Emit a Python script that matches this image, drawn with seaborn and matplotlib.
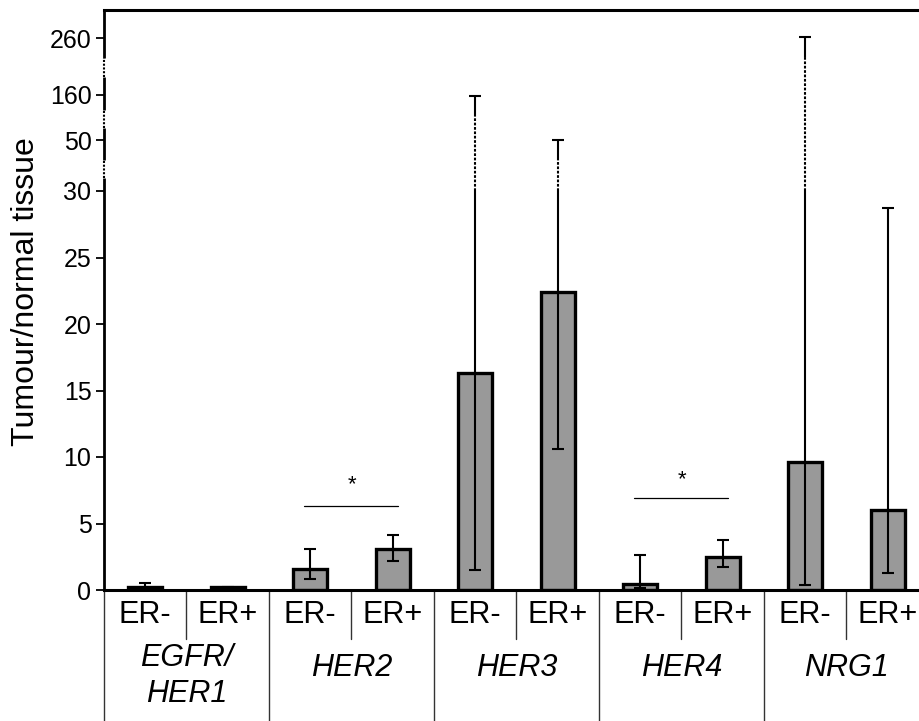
import numpy as np
import pandas as pd
import matplotlib
matplotlib.use("Agg")
import matplotlib.pyplot as plt
import matplotlib.transforms as mtransforms
import seaborn as sns

# ---------------- data ----------------
genes = ["EGFR/\nHER1", "HER2", "HER3", "HER4", "NRG1"]
status = ["ER-", "ER+"]
means = [0.25, 0.2, 1.6, 3.05, 16.3, 22.4, 0.45, 2.5, 9.6, 6.0]
err_low = [0.1, 0.12, 0.8, 2.2, 1.5, 10.6, 0.15, 1.7, 0.4, 1.3]
err_high = [0.5, 0.25, 3.1, 4.1, 158, 50, 2.65, 3.75, 262, 28.7]
yticks = [0, 5, 10, 15, 20, 25, 30, 50, 160, 260]
sig_pairs = [(2, 3), (6, 7)]
sig_line_y = [6.3, 6.9]
sig_star_y = [7.9, 8.3]

# ---------------- broken axis scale ----------------
anchor_vals = np.array([-1000.0, 0, 30, 50, 160, 260, 2000])
anchor_px = np.array([-13300.0, 0, 399, 450, 495, 552, 552 + 1740 * 0.57])


def fwd(v):
    return np.interp(v, anchor_vals, anchor_px)


def inv(p):
    return np.interp(p, anchor_px, anchor_vals)


sns.set_style("white")
plt.rcParams["font.family"] = ["Liberation Sans", "DejaVu Sans"]
for k in ["text.color", "axes.labelcolor", "xtick.color", "ytick.color"]:
    plt.rcParams[k] = "black"

labels = [f"{g.replace(chr(10), '')} {s}" for g in genes for s in status]
df = pd.DataFrame({"bar": labels, "value": means})

W, H = 920, 721
fig = plt.figure(figsize=(W / 100, H / 100), dpi=100)
ax_h_px = 580
ax = fig.add_axes([104 / W, 131 / H, 825 / W, ax_h_px / H])

sns.barplot(data=df, x="bar", y="value", color="#999999", edgecolor="black",
            linewidth=2.4, width=0.41, errorbar=None, saturation=1, ax=ax, zorder=2)

ax.set_yscale("function", functions=(fwd, inv))
ymax = inv(ax_h_px)
ax.set_ylim(0, ymax)
ax.set_xlim(-0.5, len(labels) - 0.5)

# ---------------- error bars ----------------
xs = np.arange(len(labels))
m = np.array(means)
lo = np.array(err_low)
hi = np.array(err_high)
ax.errorbar(xs, m, yerr=[m - lo, hi - m], fmt="none", ecolor="black",
            elinewidth=0, capsize=4.5, capthick=1.5, zorder=4)
for x, l, h in zip(xs, lo, hi):
    if h <= 30:
        ax.vlines(x, l, h, color="black", lw=1.5, zorder=4)
    else:
        solid_start = inv(fwd(h) - 20)
        ax.vlines(x, l, 30, color="black", lw=1.5, zorder=4)
        ax.plot([x, x], [30, solid_start], color="black", lw=1.5,
                ls=(0, (1.3, 0.8)), zorder=4)
        ax.vlines(x, solid_start, h, color="black", lw=1.5, zorder=4)

# ---------------- significance ----------------
for (a, b), ly, sy in zip(sig_pairs, sig_line_y, sig_star_y):
    ax.plot([a - 0.07, b + 0.06], [ly, ly], color="black", lw=0.9)
    ax.text((a + b) / 2 + 0.01, sy, "*", ha="center", va="center", fontsize=16)

# ---------------- axes / spines ----------------
ax.set_yticks(yticks)
ax.set_yticklabels([str(t) for t in yticks])
ax.tick_params(axis="y", direction="out", length=6, width=1.3, labelsize=18,
               pad=3, left=True, color="black")
ax.set_xticks([])
ax.set_xlabel("")
ax.set_ylabel("Tumour/normal tissue", fontsize=23)
ax.yaxis.set_label_coords(-0.076, 0.514)

for side in ["top", "bottom", "right"]:
    ax.spines[side].set_visible(True)
    ax.spines[side].set_linewidth(2.2)
    ax.spines[side].set_color("black")
ax.spines["left"].set_visible(False)

ytr = ax.get_yaxis_transform()
solid_segs = [(0, 35.1), (42.2, 79), (123, 191.6), (225, ymax)]
dot_segs = [(35.1, 42.2), (79, 123), (191.6, 225)]
for a, b in solid_segs:
    ax.plot([0, 0], [a, b], transform=ytr, color="black", lw=2.0,
            clip_on=False, solid_capstyle="butt", zorder=5)
for a, b in dot_segs:
    ax.plot([0, 0], [a, b], transform=ytr, color="black", lw=1.5,
            ls=(0, (1.0, 0.8)), clip_on=False, zorder=5)

# ---------------- category table below ----------------
btr = mtransforms.blended_transform_factory(ax.transData, ax.transAxes)
sub_drop = -49 / ax_h_px
grp_drop = -131 / ax_h_px
for g in range(len(genes)):
    x_sub = 2 * g + 0.5
    ax.plot([x_sub, x_sub], [0, sub_drop], transform=btr, color="#333333",
            lw=1.0, clip_on=False)
for g in range(len(genes) + 1):
    x_grp = 2 * g - 0.5
    ax.plot([x_grp, x_grp], [0, grp_drop], transform=btr, color="#333333",
            lw=1.0, clip_on=False)

for i, lab in enumerate(labels):
    ax.text(i, -25 / ax_h_px, status[i % 2], transform=btr, ha="center",
            va="center", fontsize=22)
for g, name in enumerate(genes):
    yy = -86 / ax_h_px if "\n" in name else -78 / ax_h_px
    ax.text(2 * g + 0.5, yy, name, transform=btr, ha="center", va="center",
            fontsize=22, style="italic", linespacing=1.25)

fig.savefig("out.png", dpi=100)
